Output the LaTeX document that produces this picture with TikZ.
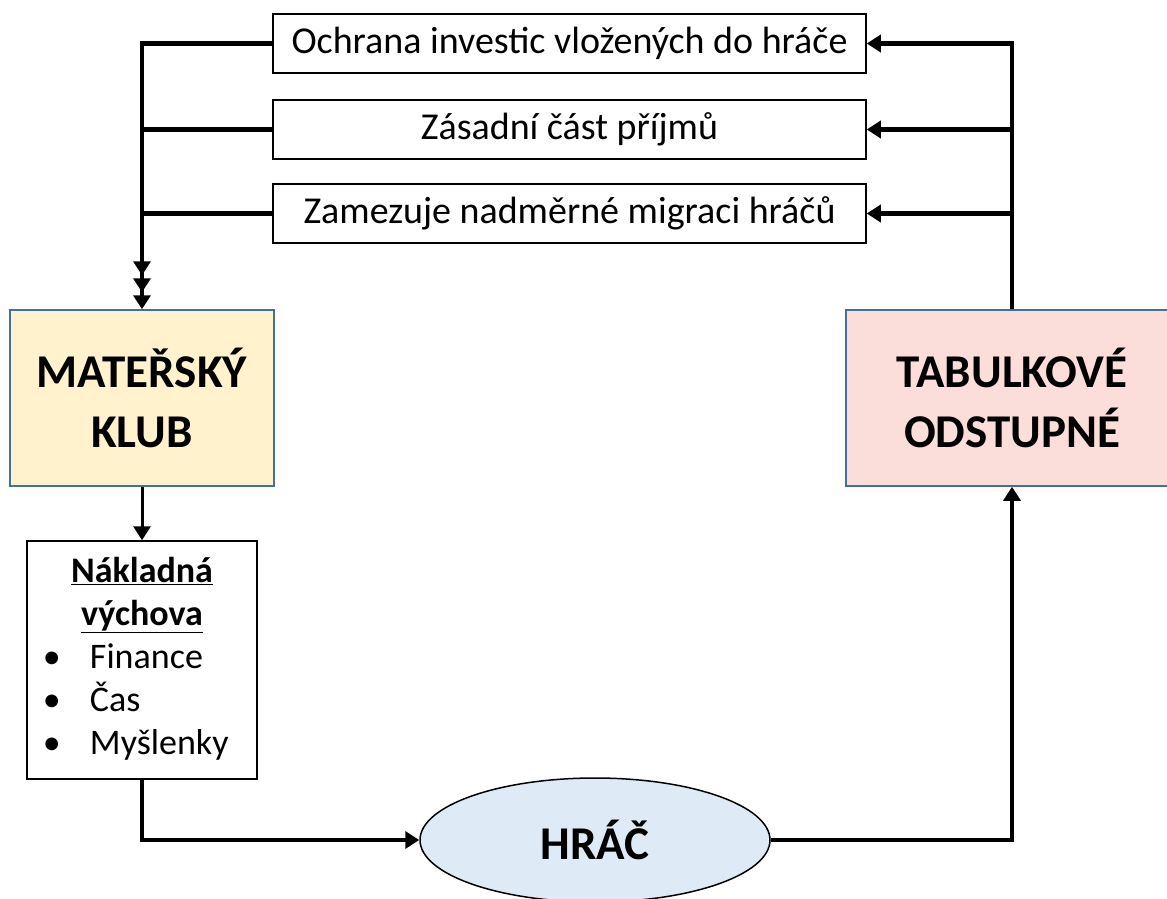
\documentclass[tikz,border=0pt]{standalone}
\usepackage{fontspec}
\setmainfont{Carlito}
\usepackage{tikz}
\usetikzlibrary{shapes.geometric,arrows.meta}
\definecolor{clubfill}{RGB}{255,242,204}
\definecolor{feefill}{RGB}{251,221,218}
\definecolor{playerfill}{RGB}{222,235,247}
\definecolor{edgeblue}{RGB}{65,113,156}

\begin{document}
\begin{tikzpicture}[x=1pt,y=-1pt,inner sep=0pt,
  reasonbox/.style={draw=black,line width=1.5pt,minimum width=593pt,minimum height=59pt,font=\fontsize{38}{44}\selectfont},
  bigbox/.style={draw=edgeblue,line width=1.5pt,minimum height=176pt,align=center,font=\fontsize{47}{60}\selectfont\bfseries},
  conn/.style={line width=4.5pt,-{Triangle[length=14pt,width=17pt]}}]
\useasboundingbox (0,0) rectangle (1167,898);
\clip (0,0) rectangle (1167,898);
%Node Coordinates
\node at (569.5,43.5) [reasonbox] (Reason1) {Ochrana investic vložených do hráče};
\node at (569.5,129.5) [reasonbox] (Reason2) {Zásadní část příjmů};
\node at (569.5,213.5) [reasonbox] (Reason3) {Zamezuje nadměrné migraci hráčů};
\node at (142,398) [bigbox,fill=clubfill,minimum width=264pt] (ClubBox) {MATEŘSKÝ\\KLUB};
\node at (1012,398) [bigbox,fill=feefill,minimum width=332pt] (FeeBox) {TABULKOVÉ\\ODSTUPNÉ};
\node at (142,660) [draw=black,line width=1.5pt,minimum width=230pt,minimum height=238pt,font=\fontsize{36}{43}\selectfont] (CostBox) {%
\begin{tabular}{@{\hspace{16pt}}p{12pt}@{\hspace{35pt}}p{167pt}@{}}
\multicolumn{2}{@{}c@{}}{\textbf{\underline{Nákladná}}}\\
\multicolumn{2}{@{}c@{}}{\textbf{\underline{výchova}}}\\
\textbullet & Finance\\
\textbullet & Čas\\
\textbullet & Myšlenky
\end{tabular}};
\node at (595,840) [ellipse,draw=black,line width=1.5pt,fill=playerfill,minimum width=350pt,minimum height=124pt,font=\fontsize{47}{56}\selectfont\bfseries] (PlayerEllipse) {HRÁČ};
%Connections
\draw [conn] (Reason1.west) -| (ClubBox.north);
\draw [conn,shorten >=17pt] (Reason2.west) -| (ClubBox.north);
\draw [conn,shorten >=34pt] (Reason3.west) -| (ClubBox.north);
\draw [conn] (FeeBox.north) |- (Reason1.east);
\draw [conn] (FeeBox.north) |- (Reason2.east);
\draw [conn] (FeeBox.north) |- (Reason3.east);
\draw [conn,line width=3pt] (ClubBox.south) -- (CostBox.north);
\draw [conn] (CostBox.south) |- (PlayerEllipse.west);
\draw [conn] (PlayerEllipse.east) -| (FeeBox.south);
\end{tikzpicture}
\end{document}
